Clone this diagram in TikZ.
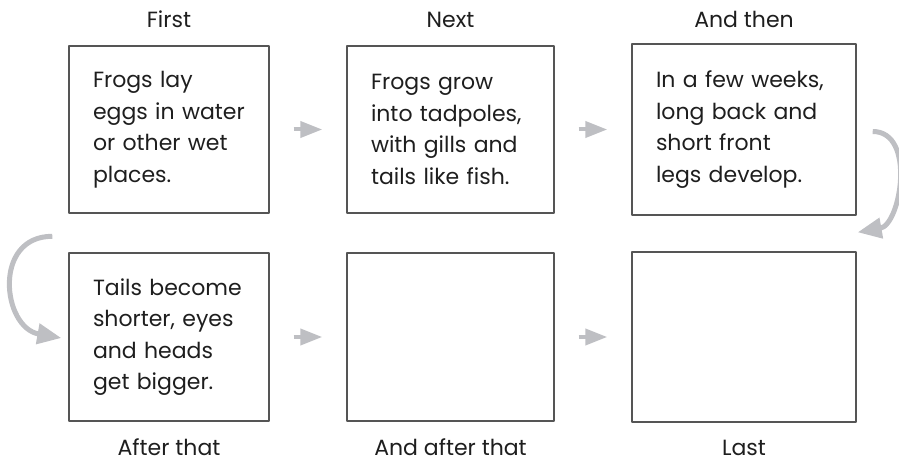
\documentclass[tikz,border=0pt]{standalone}
\usepackage{fontspec}
\setmainfont{Poppins}
\usetikzlibrary{arrows.meta,positioning}
\definecolor{boxline}{RGB}{85,85,85}
\definecolor{arrowgray}{RGB}{190,191,195}
\definecolor{txt}{RGB}{30,30,30}
\begin{document}
\begin{tikzpicture}[x=1pt,y=1pt,line join=round,
  stage/.style={draw=boxline,line width=1.4pt,inner sep=0pt,align=left,text=txt,font=\fontsize{22}{31.5}\selectfont},
  lbl/.style={anchor=base,inner sep=0pt,text=txt,font=\fontsize{22}{25}\selectfont},
  go/.style={draw=arrowgray,line width=4pt,-{Triangle[length=22pt,width=16pt]}},
  turn/.style={draw=arrowgray,line width=5pt,-{Triangle[length=24pt,width=20pt]}}]
\useasboundingbox (0,0) rectangle (899,463);
\node[stage,minimum width=200pt,minimum height=167pt,text width=152pt] (s1) at (169,333.5) {Frogs lay\\eggs in water\\or other wet\\places.};
\node[stage,minimum width=207pt,minimum height=167pt,text width=159pt] (s2) at (450.5,333.5) {Frogs grow\\into tadpoles,\\with gills and\\tails like fish.};
\node[stage,minimum width=224pt,minimum height=171pt,text width=176pt] (s3) at (744,333.5) {In a few weeks,\\long back and\\short front\\legs develop.};
\node[stage,minimum width=200pt,minimum height=168pt,text width=152pt] (s4) at (169,126) {Tails become\\shorter, eyes\\and heads\\get bigger.};
\node[stage,minimum width=207pt,minimum height=168pt] (s5) at (450.5,126) {};
\node[stage,minimum width=224pt,minimum height=170pt] (s6) at (744,126) {};
\node[lbl] (l1) at ([yshift=18pt]s1.north) {First};
\node[lbl] (l2) at ([yshift=18pt]s2.north) {Next};
\node[lbl] (l3) at ([yshift=16pt]s3.north) {And then};
\node[lbl] (l4) at ([yshift=-34pt]s4.south) {After that};
\node[lbl] (l5) at ([yshift=-34pt]s5.south) {And after that};
\node[lbl] (l6) at ([yshift=-33pt]s6.south) {Last};
\draw[go,shorten <=24pt,shorten >=24pt] (s1) -- (s2);
\draw[go,shorten <=24pt,shorten >=24pt] (s2) -- (s3);
\draw[go,shorten <=24pt,shorten >=24pt] (s4) -- (s5);
\draw[go,shorten <=24pt,shorten >=24pt] (s5) -- (s6);
\draw[turn] ([xshift=16pt,yshift=-2pt]s3.east) to[out=0,in=10,looseness=1.1] ([xshift=1pt,yshift=19pt]s6.north east);
\draw[turn] ([xshift=-16pt,yshift=16pt]s4.north west) to[out=180,in=170,looseness=1.5] ([xshift=-7pt,yshift=-1pt]s4.west);
\end{tikzpicture}
\end{document}
